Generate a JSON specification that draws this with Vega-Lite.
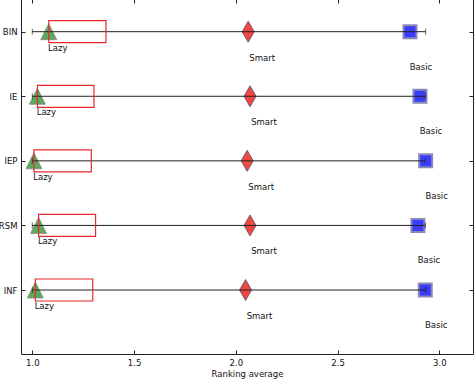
{
  "$schema": "https://vega.github.io/schema/vega-lite/v6.json",
  "width": 452,
  "height": 355,
  "autosize": "none",
  "padding": {"left": 21, "top": -1, "right": 1, "bottom": 25},
  "background": "white",
  "config": {
    "view": {"stroke": "#222", "strokeWidth": 1},
    "font": "DejaVu Sans",
    "axis": {"grid": false, "labelFont": "DejaVu Sans", "titleFont": "DejaVu Sans", "labelFontSize": 8.5, "titleFontSize": 8.5, "labelColor": "#111", "titleColor": "#111", "titleFontWeight": "normal", "tickColor": "#222", "domain": false}
  },
  "data": {"values": [
    {"method": "BIN", "lazy": 1.081, "lazy_box_end": 1.362, "smart": 2.061, "basic": 2.856, "lo": 1.0, "hi": 2.933},
    {"method": "IE", "lazy": 1.025, "lazy_box_end": 1.303, "smart": 2.070, "basic": 2.905, "lo": 1.0, "hi": 2.933},
    {"method": "IEP", "lazy": 1.008, "lazy_box_end": 1.290, "smart": 2.056, "basic": 2.933, "lo": 1.0, "hi": 2.930},
    {"method": "RSM", "lazy": 1.031, "lazy_box_end": 1.311, "smart": 2.070, "basic": 2.895, "lo": 1.0, "hi": 2.931},
    {"method": "INF", "lazy": 1.015, "lazy_box_end": 1.297, "smart": 2.048, "basic": 2.931, "lo": 1.0, "hi": 2.933}
  ]},
  "resolve": {"axis": {"x": "independent", "y": "independent"}},
  "layer": [
    {
      "encoding": {
        "y": {"field": "method", "type": "nominal", "sort": ["BIN", "IE", "IEP", "RSM", "INF"],
          "scale": {"type": "point", "domain": ["BIN", "IE", "IEP", "RSM", "INF"], "range": [32.7, 291], "padding": 0},
          "axis": {"title": null, "orient": "left", "tickSize": -4, "labelPadding": 8, "tickWidth": 1}}
      },
      "layer": [
        {
          "mark": {"type": "point", "shape": "M0,-1L1,1L-1,1Z", "size": 256, "filled": true, "fill": "#3f9a3f", "fillOpacity": 0.85, "stroke": "#888888", "strokeWidth": 1, "strokeOpacity": 0.8},
          "encoding": {
            "x": {"field": "lazy", "type": "quantitative", "scale": {"domain": [0.9445, 3.1657], "nice": false, "zero": false},
              "axis": {"title": "Ranking average", "orient": "bottom", "values": [1, 1.5, 2, 2.5, 3], "format": ".1f", "tickSize": -4, "labelPadding": 8, "titlePadding": 3}}
          }
        },
        {
          "mark": {"type": "point", "shape": "M0,-1L0.58,0L0,1L-0.58,0Z", "size": 441, "filled": true, "fill": "#f03c3c", "fillOpacity": 0.95, "stroke": "#555555", "strokeWidth": 0.8},
          "encoding": {"x": {"field": "smart", "type": "quantitative"}}
        },
        {
          "mark": {"type": "point", "shape": "square", "size": 169, "filled": true, "fill": "#3c3cff", "fillOpacity": 1, "stroke": "#8a8ab8", "strokeWidth": 2},
          "encoding": {"x": {"field": "basic", "type": "quantitative"}}
        },
        {
          "mark": {"type": "rule", "color": "#222222", "strokeWidth": 1},
          "encoding": {"x": {"field": "lo", "type": "quantitative"}, "x2": {"field": "hi"}}
        },
        {
          "mark": {"type": "tick", "color": "#222222", "thickness": 1, "size": 6, "orient": "vertical"},
          "encoding": {"x": {"field": "lo", "type": "quantitative"}}
        },
        {
          "mark": {"type": "tick", "color": "#222222", "thickness": 1, "size": 6, "orient": "vertical"},
          "encoding": {"x": {"field": "hi", "type": "quantitative"}}
        },
        {
          "mark": {"type": "bar", "height": 22, "fill": null, "fillOpacity": 0, "stroke": "#e8282f", "strokeWidth": 1.2},
          "encoding": {"x": {"field": "lazy", "type": "quantitative"}, "x2": {"field": "lazy_box_end"}}
        },
        {
          "mark": {"type": "text", "dx": 9, "dy": 16, "fontSize": 8.5, "color": "#111", "align": "center", "baseline": "middle"},
          "encoding": {"x": {"field": "lazy", "type": "quantitative"}, "text": {"value": "Lazy"}}
        },
        {
          "mark": {"type": "text", "dx": 14, "dy": 26, "fontSize": 8.5, "color": "#111", "align": "center", "baseline": "middle"},
          "encoding": {"x": {"field": "smart", "type": "quantitative"}, "text": {"value": "Smart"}}
        },
        {
          "mark": {"type": "text", "dx": 11, "dy": 35, "fontSize": 8.5, "color": "#111", "align": "center", "baseline": "middle"},
          "encoding": {"x": {"field": "basic", "type": "quantitative"}, "text": {"value": "Basic"}}
        }
      ]
    },
    {
      "mark": {"type": "point", "opacity": 0},
      "encoding": {
        "x": {"field": "smart", "type": "quantitative", "scale": {"domain": [0.9445, 3.1657], "nice": false, "zero": false}, "axis": {"orient": "top", "values": [1, 1.5, 2, 2.5, 3], "labels": false, "tickSize": -4, "title": null}},
        "y": {"field": "method", "type": "nominal", "sort": ["BIN", "IE", "IEP", "RSM", "INF"], "scale": {"type": "point", "domain": ["BIN", "IE", "IEP", "RSM", "INF"], "range": [32.7, 291], "padding": 0}, "axis": {"orient": "right", "labels": false, "tickSize": -4, "title": null}}
      }
    }
  ]
}
